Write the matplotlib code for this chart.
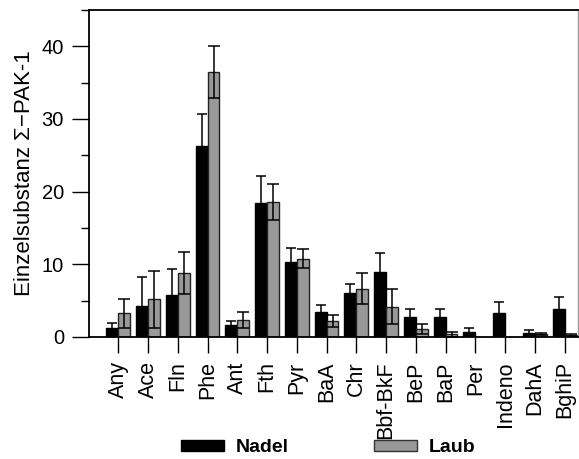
import matplotlib
matplotlib.use("Agg")
import matplotlib.pyplot as plt
from matplotlib.patches import Patch
from matplotlib.ticker import MultipleLocator
import numpy as np

plt.rcParams['font.family'] = ['Liberation Sans', 'DejaVu Sans']

categories = ['Any', 'Ace', 'Fln', 'Phe', 'Ant', 'Fth', 'Pyr', 'BaA', 'Chr',
              'Bbf-BkF', 'BeP', 'BaP', 'Per', 'Indeno', 'DahA', 'BghiP']
nadel = [1.3, 4.3, 5.8, 26.3, 1.65, 18.5, 10.3, 3.4, 6.1, 8.9, 2.8, 2.8, 0.65, 3.3, 0.5, 3.85]
nadel_err = [0.65, 4.0, 3.5, 4.4, 0.5, 3.6, 1.9, 1.0, 1.15, 2.6, 1.0, 1.0, 0.55, 1.45, 0.4, 1.65]
laub = [3.25, 5.2, 8.85, 36.45, 2.4, 18.6, 10.8, 2.2, 6.65, 4.15, 1.1, 0.35, 0.0, 0.0, 0.45, 0.28]
laub_err = [1.95, 3.9, 2.9, 3.6, 1.1, 2.5, 1.3, 0.8, 2.1, 2.4, 0.65, 0.3, 0.0, 0.0, 0.15, 0.15]

W, H = 579, 459
fig = plt.figure(figsize=(W / 100, H / 100), dpi=100)
ax = fig.add_axes([89 / W, 1 - 337 / H, (578 - 89) / W, (337 - 10) / H])

x = np.arange(len(categories))
bw = 0.4
grey = '#999999'

ax.bar(x - bw, nadel, width=bw, align='edge', color='black', edgecolor='black',
       linewidth=1.0, zorder=2)
ax.bar(x, laub, width=bw, align='edge', color=grey, edgecolor='#222222',
       linewidth=1.0, zorder=2)

ax.errorbar(x - bw / 2, nadel, yerr=nadel_err, fmt='none', ecolor='black',
            elinewidth=1.1, capsize=3.5, capthick=1.1, zorder=3)
lx = [xi + bw / 2 for xi, e in zip(x, laub_err) if e > 0]
ly = [v for v, e in zip(laub, laub_err) if e > 0]
le = [e for e in laub_err if e > 0]
ax.errorbar(lx, ly, yerr=le, fmt='none', ecolor='black',
            elinewidth=1.1, capsize=4.5, capthick=1.1, zorder=3)

ax.set_xlim(-0.985, 15.45)
ax.set_ylim(0, 45)
ax.yaxis.set_major_locator(MultipleLocator(10))
ax.yaxis.set_minor_locator(MultipleLocator(5))
ax.set_xticks(x)
ax.set_xticklabels(categories, rotation=90, fontsize=15.5)
ax.tick_params(axis='x', direction='out', length=11.5, width=1.0, pad=6)
ax.tick_params(axis='y', which='major', direction='out', length=12, width=1.0,
               pad=6, labelsize=14.5)
ax.tick_params(axis='y', which='minor', direction='out', length=6, width=1.0)

for side in ['left', 'bottom', 'top']:
    ax.spines[side].set_linewidth(1.3)
    ax.spines[side].set_color('black')
ax.spines['right'].set_linewidth(1.0)
ax.spines['right'].set_color('#999999')

ax.set_ylabel('Einzelsubstanz \u03a3\u2212PAK-1', fontsize=16, labelpad=5)

handles = [Patch(facecolor='black', edgecolor='black', label='Nadel'),
           Patch(facecolor=grey, edgecolor='#333333', label='Laub')]
fig.legend(handles=handles, loc='center left', bbox_to_anchor=(181 / W, 1 - 448 / H),
           ncol=2, frameon=False, borderpad=0, borderaxespad=0,
           handlelength=2.2, handleheight=0.5, handletextpad=0.6,
           columnspacing=4.4, prop={'size': 14, 'weight': 'bold'})

fig.savefig('out.png', dpi=100)
